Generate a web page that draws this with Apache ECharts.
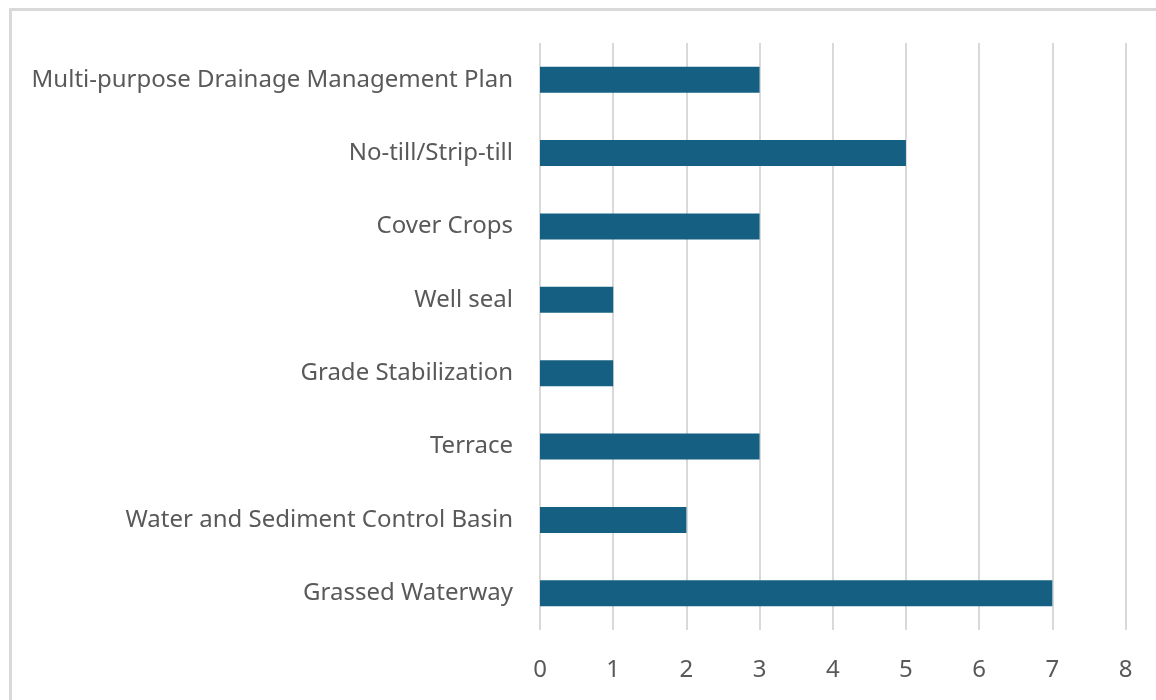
<!DOCTYPE html>
<html><head><meta charset="utf-8">
<script src="https://cdn.jsdelivr.net/npm/echarts@6/dist/echarts.min.js"></script>
<style>html,body{margin:0;padding:0;background:#fff}#c{width:1156px;height:700px}</style>
</head><body><div id="c"></div>
<script>
const categories = ["Grassed Waterway","Water and Sediment Control Basin","Terrace","Grade Stabilization","Well seal","Cover Crops","No-till/Strip-till","Multi-purpose Drainage Management Plan"];
const values = [7,2,3,1,1,3,5,3];
const xTicks = {min:0,max:8,interval:1};

const chart = echarts.init(document.getElementById('c'), null, {renderer:'canvas'});
chart.setOption({
  animation:false,
  backgroundColor:'#fff',
  textStyle:{fontFamily:'Noto Sans'},
  graphic:[{type:'rect',left:8,top:7,shape:{width:1300,height:900},style:{fill:'none',stroke:'#d9d9d9',lineWidth:3},z:-1}],
  grid:{left:540,right:30.5,top:43,bottom:70,containLabel:false},
  xAxis:{type:'value',min:xTicks.min,max:xTicks.max,interval:xTicks.interval,
    axisLine:{show:false},axisTick:{show:false},
    splitLine:{show:true,lineStyle:{color:'#d9d9d9',width:2}},
    axisLabel:{color:'#595959',fontSize:24,margin:28,fontFamily:'Noto Sans'}},
  yAxis:{type:'category',data:categories,
    axisLine:{show:false},axisTick:{show:false},
    axisLabel:{color:'#595959',fontSize:24,margin:27,fontFamily:'Noto Sans'}},
  series:[{type:'bar',data:values,barWidth:'35.5%',itemStyle:{color:'#156082'}}]
});
</script></body></html>
